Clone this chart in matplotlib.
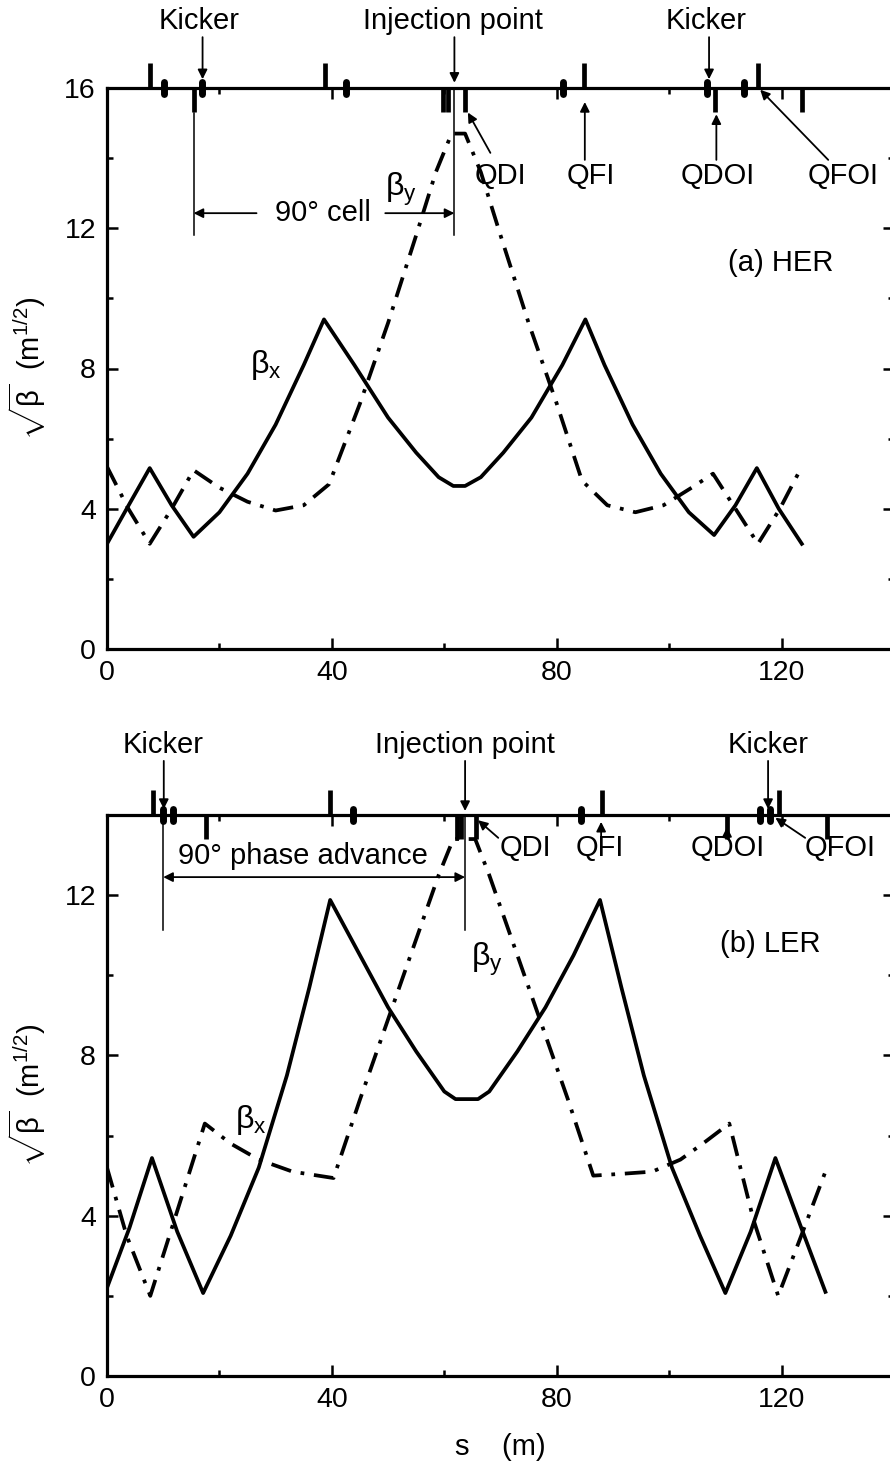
import matplotlib
matplotlib.use('Agg')
import matplotlib.pyplot as plt
from matplotlib.ticker import MultipleLocator

plt.rcParams['font.family'] = ['Liberation Sans', 'DejaVu Sans']
plt.rcParams['mathtext.fontset'] = 'custom'
plt.rcParams['mathtext.rm'] = 'Liberation Sans'
plt.rcParams['mathtext.it'] = 'Liberation Sans'

# ---- (a) HER ----
her_s_x = [0, 3.5, 7.6, 11.5, 15.4, 20, 25, 30, 35, 38.6, 44, 50, 55, 59, 61.6, 63.7,
           66.5, 70.5, 75.5, 81, 85.1, 88.5, 93.5, 98.5, 103.5, 108, 111.8, 115.6, 119.5, 123.6]
her_bx = [3.0, 4.0, 5.16, 4.1, 3.2, 3.9, 5.0, 6.4, 8.1, 9.4, 8.1, 6.6, 5.6, 4.9, 4.65, 4.65,
          4.9, 5.6, 6.6, 8.1, 9.4, 8.1, 6.4, 5.0, 3.9, 3.25, 4.1, 5.16, 4.0, 3.0]
her_s_y = [0, 3.8, 7.6, 11.5, 15.4, 20, 25, 30, 35, 39.5, 45, 50, 55, 58.5, 61.3, 63.7,
           66.5, 70, 75, 80, 84.5, 89, 94, 99, 104, 107.8, 111.8, 115.8, 119.7, 123.6]
her_by = [5.2, 4.0, 3.0, 4.0, 5.1, 4.6, 4.2, 3.95, 4.1, 4.7, 7.0, 9.3, 11.8, 13.6, 14.7, 14.7,
          13.6, 11.8, 9.3, 7.0, 4.8, 4.1, 3.9, 4.1, 4.6, 5.0, 4.0, 3.0, 4.0, 5.2]
her_qf = [7.6, 38.8, 84.9, 115.8]
her_qd = [15.4, 59.8, 60.6, 63.7, 108.2, 123.6]
her_bend = [10.1, 16.9, 42.5, 81.1, 106.7, 113.3]

# ---- (b) LER ----
ler_s_x = [0, 4, 8.0, 12.5, 17.1, 22, 27, 32, 36, 39.7, 45, 50, 55, 60, 62, 66,
           68, 73, 78, 83, 87.7, 91.5, 95.5, 100.5, 105.5, 110, 114.5, 118.9, 123.5, 127.8]
ler_bx = [2.2, 3.7, 5.44, 3.6, 2.07, 3.5, 5.2, 7.5, 9.7, 11.88, 10.5, 9.2, 8.1, 7.1, 6.91, 6.91,
          7.1, 8.1, 9.2, 10.5, 11.88, 9.7, 7.5, 5.2, 3.5, 2.07, 3.6, 5.44, 3.7, 2.1]
ler_s_y = [0, 3.5, 7.7, 12, 17.4, 22, 27, 33, 40.3, 45, 50, 55, 59, 61.6, 65.5,
           68, 72, 77, 82, 86.5, 92, 97, 102, 106, 110.7, 115, 119.4, 123.5, 127.8]
ler_by = [5.2, 3.5, 2.0, 3.9, 6.3, 5.8, 5.4, 5.1, 4.94, 6.9, 8.9, 10.9, 12.5, 13.4, 13.4,
          12.5, 10.9, 8.9, 6.9, 5.0, 5.05, 5.1, 5.4, 5.8, 6.3, 3.9, 2.0, 3.5, 5.1]
ler_qf = [8.1, 39.7, 88.0, 119.6]
ler_qd = [17.6, 62.3, 62.9, 65.7, 110.3, 128.1]
ler_bend = [10.0, 11.7, 43.7, 84.3, 116.2, 118.0]

FS = 21
AR = dict(arrowstyle='-|>', color='k', lw=1.3, shrinkA=0, shrinkB=0, mutation_scale=14)

fig = plt.figure(figsize=(8.9, 14.66), dpi=100)
ax1 = fig.add_axes([107/890, 1-649/1466, 787/890, 561/1466])
ax2 = fig.add_axes([107/890, 1-1376/1466, 787/890, 561/1466])


def style(ax, ytop):
    ax.set_xlim(0, 140)
    ax.set_ylim(0, ytop)
    ax.set_xticks([0, 40, 80, 120])
    ax.set_yticks(range(0, ytop + 1, 4))
    ax.xaxis.set_minor_locator(MultipleLocator(20))
    ax.yaxis.set_minor_locator(MultipleLocator(2))
    ax.tick_params(which='both', direction='in', top=True, right=True, width=1.8,
                   labelsize=20.5, pad=8)
    ax.tick_params(which='major', length=8)
    ax.tick_params(which='minor', length=4)
    for sp in ax.spines.values():
        sp.set_linewidth(2.3)
    ax.set_ylabel(r'$\sqrt{\beta}$  (m$^{1/2}$)', fontsize=FS, labelpad=12)


def magnets(ax, qf, qd, bend):
    tr = ax.get_xaxis_transform()
    ax.vlines(qf, 1.0, 1.045, transform=tr, lw=3.4, color='k', clip_on=False)
    ax.vlines(qd, 0.957, 1.0, transform=tr, lw=3.4, color='k', clip_on=False)
    ax.vlines(bend, 0.99, 1.01, transform=tr, lw=5.0, color='k', clip_on=False,
              capstyle='round')


def arrow(ax, head, tail):
    ax.annotate('', xy=head, xytext=tail, arrowprops=AR, annotation_clip=False)


# top panel
style(ax1, 16)
ax1.plot(her_s_x, her_bx, color='k', lw=2.7)
ax1.plot(her_s_y, her_by, color='k', lw=2.7, dashes=(5.5, 2.6, 1.0, 2.6))
magnets(ax1, her_qf, her_qd, her_bend)

ax1.text(16.4, 17.9, 'Kicker', fontsize=FS, ha='center', va='center')
arrow(ax1, (17.0, 16.25), (17.0, 17.45))
ax1.text(61.6, 17.9, 'Injection point', fontsize=FS, ha='center', va='center')
arrow(ax1, (61.8, 16.15), (61.8, 17.45))
ax1.text(106.6, 17.9, 'Kicker', fontsize=FS, ha='center', va='center')
arrow(ax1, (107.1, 16.25), (107.1, 17.45))
ax1.plot([61.8, 61.8], [16.2, 11.8], color='k', lw=1.1)
ax1.plot([15.4, 15.4], [15.3, 11.8], color='k', lw=1.1)
arrow(ax1, (15.4, 12.43), (26.6, 12.43))
arrow(ax1, (61.8, 12.43), (49.5, 12.43))
ax1.text(38.4, 12.43, '90° cell', fontsize=FS, ha='center', va='center')
ax1.text(52.3, 13.1, r'$\mathregular{β_y}$', fontsize=FS + 2, ha='center', va='center')
ax1.text(28.3, 8.1, r'$\mathregular{β_x}$', fontsize=FS + 2, ha='center', va='center')

ax1.text(70.0, 13.5, 'QDI', fontsize=FS, ha='center', va='center')
arrow(ax1, (64.2, 15.3), (68.2, 14.15))
ax1.text(86.0, 13.5, 'QFI', fontsize=FS, ha='center', va='center')
arrow(ax1, (85.0, 15.6), (85.0, 13.95))
ax1.text(108.7, 13.5, 'QDOI', fontsize=FS, ha='center', va='center')
arrow(ax1, (108.4, 15.25), (108.4, 13.95))
ax1.text(131.0, 13.5, 'QFOI', fontsize=FS, ha='center', va='center')
arrow(ax1, (116.2, 15.95), (128.3, 13.95))
ax1.text(119.8, 11.0, '(a) HER', fontsize=FS, ha='center', va='center')

# bottom panel
style(ax2, 14)
ax2.plot(ler_s_x, ler_bx, color='k', lw=2.7)
ax2.plot(ler_s_y, ler_by, color='k', lw=2.7, dashes=(5.5, 2.6, 1.0, 2.6))
magnets(ax2, ler_qf, ler_qd, ler_bend)
ax2.set_xlabel('s    (m)', fontsize=FS, labelpad=14)

ax2.text(10.0, 15.75, 'Kicker', fontsize=FS, ha='center', va='center')
arrow(ax2, (10.1, 14.15), (10.1, 15.35))
ax2.text(63.7, 15.75, 'Injection point', fontsize=FS, ha='center', va='center')
arrow(ax2, (63.7, 14.1), (63.7, 15.35))
ax2.text(117.6, 15.75, 'Kicker', fontsize=FS, ha='center', va='center')
arrow(ax2, (117.6, 14.15), (117.6, 15.35))
ax2.plot([63.7, 63.7], [14.2, 11.13], color='k', lw=1.1)
ax2.plot([10.0, 10.0], [14.0, 11.13], color='k', lw=1.1)
ax2.annotate('', xy=(10.0, 12.45), xytext=(63.7, 12.45), annotation_clip=False,
             arrowprops=dict(arrowstyle='<|-|>', color='k', lw=1.3, shrinkA=0, shrinkB=0,
                             mutation_scale=14))
ax2.text(34.9, 12.98, '90° phase advance', fontsize=FS, ha='center', va='center')
ax2.text(67.6, 10.4, r'$\mathregular{β_y}$', fontsize=FS + 2, ha='center', va='center')
ax2.text(25.5, 6.4, r'$\mathregular{β_x}$', fontsize=FS + 2, ha='center', va='center')

ax2.text(74.4, 13.18, 'QDI', fontsize=FS, ha='center', va='center')
arrow(ax2, (66.0, 13.87), (69.6, 13.43))
ax2.text(87.7, 13.18, 'QFI', fontsize=FS, ha='center', va='center')
arrow(ax2, (87.9, 13.83), (87.9, 13.45))
ax2.text(110.5, 13.18, 'QDOI', fontsize=FS, ha='center', va='center')
arrow(ax2, (110.3, 13.7), (110.3, 13.43))
ax2.text(130.4, 13.18, 'QFOI', fontsize=FS, ha='center', va='center')
arrow(ax2, (118.9, 13.93), (124.2, 13.43))
ax2.text(118.0, 10.78, '(b) LER', fontsize=FS, ha='center', va='center')

fig.savefig('out.png', dpi=100)
